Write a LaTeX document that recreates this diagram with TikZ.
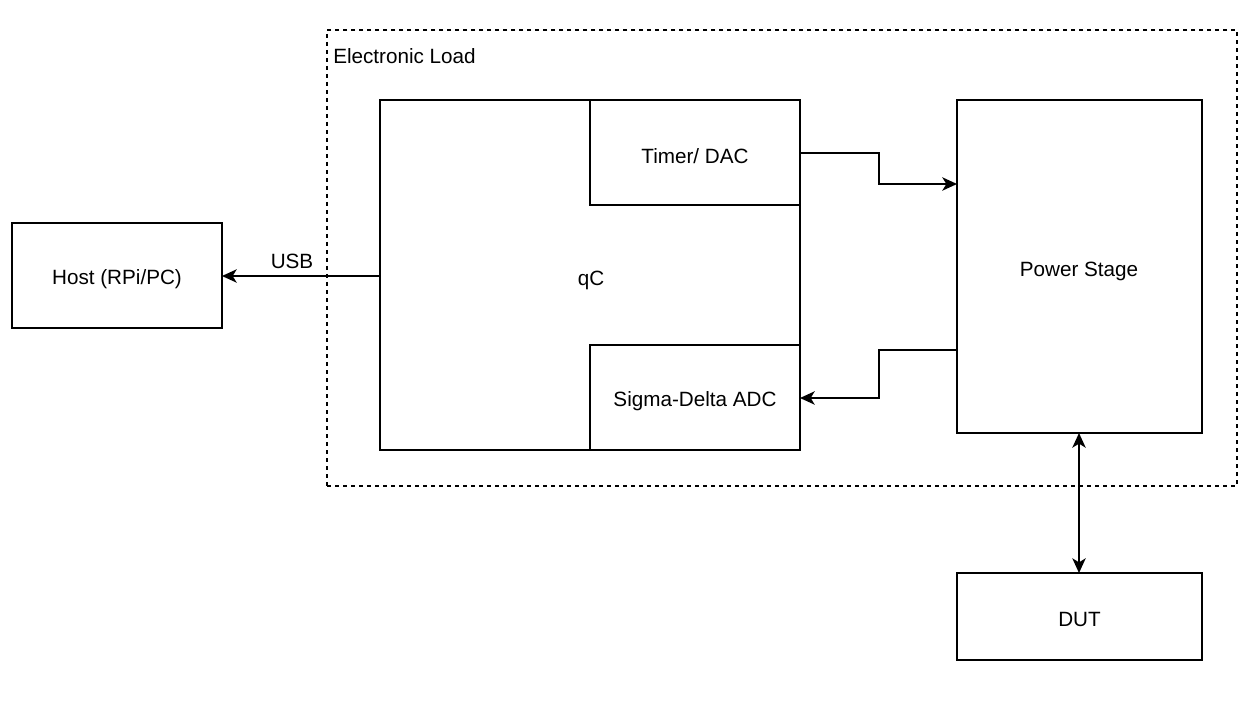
\documentclass[tikz,border=0pt]{standalone}
\usepackage{fontspec}
\setmainfont{Liberation Sans}
\usetikzlibrary{arrows.meta,fit,calc}
\begin{document}
\begin{tikzpicture}[x=0.75pt,y=-0.75pt,
  every node/.style={font=\fontsize{15.5pt}{18pt}\selectfont},
  txt/.style={yshift=-2.5pt},
  box/.style={draw, line width=1.4pt, inner sep=0pt},
  arr/.style={line width=1.4pt, -{Stealth[length=11pt,width=10pt,inset=3pt]}},
  arrboth/.style={line width=1.4pt, {Stealth[length=11pt,width=10pt,inset=3pt]}-{Stealth[length=11pt,width=10pt,inset=3pt]}}]
\useasboundingbox (0,0) rectangle (1259,702);
\node[box, line width=1.2pt, dashed, fit={(327,30) (1237,486)}] (load) {};
\node[anchor=west, inner sep=0pt] (loadlbl) at (333,56) {Electronic Load};
\node[box, fit={(12,223) (222,328)}] (host) {};
\node[txt] (hosttxt) at (host.center) {Host (RPi/PC)};
\node[box, fit={(380,100) (800,450)}] (qc) {};
\node[txt] (qctxt) at (591,277) {qC};
\node[box, fill=white, fit={(590,100) (800,205)}] (timer) {};
\node[txt] (timertxt) at (timer.center) {Timer/ DAC};
\node[box, fill=white, fit={(590,345) (800,450)}] (adc) {};
\node[txt] (adctxt) at (adc.center) {Sigma-Delta ADC};
\node[box, fit={(957,100) (1202,433)}] (power) {};
\node[txt] (powertxt) at (1079,268) {Power Stage};
\node[box, fit={(957,573) (1202,660)}] (dut) {};
\node[txt] (duttxt) at (dut.center) {DUT};
\node (usb) at (292,261) {USB};
\coordinate (usbout) at (380,276);
\coordinate (usbin) at (222,276);
\coordinate (tout) at (800,153);
\coordinate (pin) at (957,184);
\coordinate (pout) at (957,350);
\coordinate (ain) at (800,398);
\coordinate (ptop) at (1079,433);
\coordinate (dtop) at (1079,573);
\draw[arr] (usbout) -- (usbin);
\draw[arr] (tout) -| (879,184) -- (pin);
\draw[arr] (pout) -| (879,398) -- (ain);
\draw[arrboth] (ptop) -- (dtop);
\end{tikzpicture}
\end{document}
